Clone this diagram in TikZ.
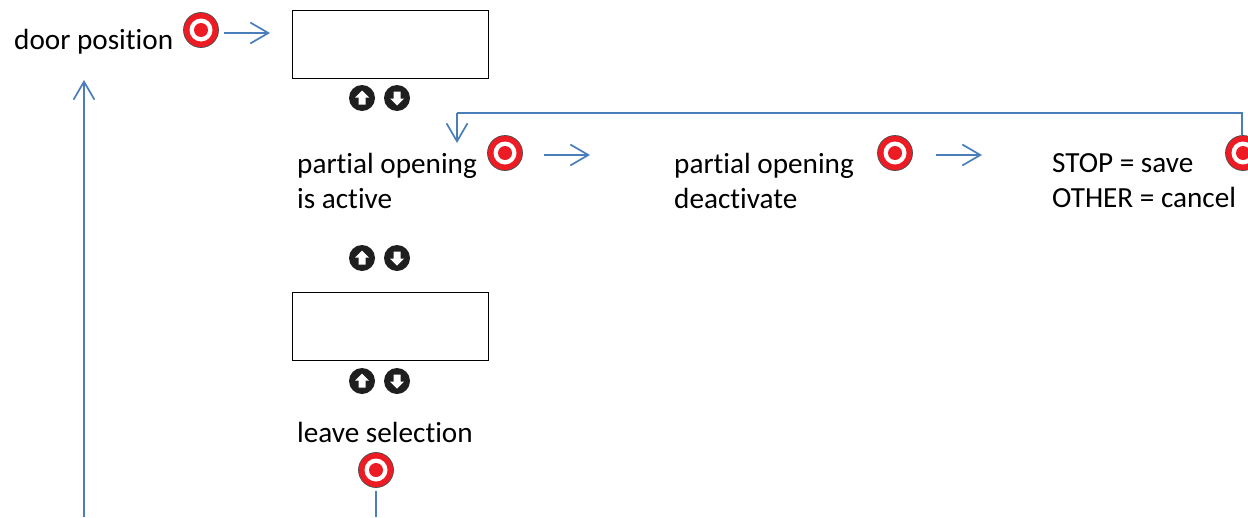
\documentclass[tikz,border=0pt]{standalone}
\usepackage{fontspec}
\setmainfont[Ligatures=NoCommon]{Carlito}
\usetikzlibrary{arrows.meta}
\definecolor{flow}{HTML}{4A7EBB}
\definecolor{mred}{HTML}{ED1C24}
\definecolor{mdark}{HTML}{4A4A4A}
\tikzset{
  x=1pt,y=-1pt,
  flowline/.style={draw=flow,line width=1.7pt},
  flowarrow/.style={flowline,-{Straight Barb[length=18pt,width=21pt,line width=1.7pt]}},
  lcd/.style={draw=black,line width=1.2pt,minimum width=196pt,minimum height=68pt,inner sep=0pt,anchor=north west},
  label/.style={font=\fontsize{29.2}{35}\selectfont,inner sep=0pt,anchor=west,align=left},
  marker/.style={circle,minimum size=35pt,inner sep=0pt,draw=mdark,line width=.7pt,fill=mred,
    path picture={
      \fill[white] (path picture bounding box.center) circle[radius=11.5pt];
      \fill[mred] (path picture bounding box.center) circle[radius=7pt];}},
  btnup/.style={circle,minimum size=26pt,inner sep=0pt,fill=black!88,
    path picture={
      \fill[white] ([shift={(0pt,-7.5pt)}]path picture bounding box.center)
        -- ++(7pt,7pt) -- ++(-3.5pt,0pt) -- ++(0pt,7pt) -- ++(-7pt,0pt) -- ++(0pt,-7pt) -- ++(-3.5pt,0pt) -- cycle;}},
  btndown/.style={circle,minimum size=26pt,inner sep=0pt,fill=black!88,
    path picture={
      \fill[white] ([shift={(0pt,7.5pt)}]path picture bounding box.center)
        -- ++(7pt,-7pt) -- ++(-3.5pt,0pt) -- ++(0pt,-7pt) -- ++(-7pt,0pt) -- ++(0pt,7pt) -- ++(-3.5pt,0pt) -- cycle;}},
}
\begin{document}
\begin{tikzpicture}
\useasboundingbox[fill=white] (0,0) rectangle (1248,517);
\begin{scope}
\clip (0,0) rectangle (1248,517);
% boxes
\node[lcd] (box1) at (292,10) {};
\node[lcd] (box2) at (292,292) {};
% labels
\node[label] (door) at (14,41.5) {door position};
\node[label] (active) at (297,180.5) {partial opening\\is active};
\node[label] (deact) at (674,180.5) {partial opening\\deactivate};
\node[label] (stop) at (1052,181) {STOP = save\\OTHER = cancel};
\node[label] (leave) at (297,432) {leave selection};
% markers
\node[marker] (m1) at (201,30) {};
\node[marker] (m2) at (505,153) {};
\node[marker] (m3) at (895,153) {};
\node[marker] (m4) at (1243,153) {};
\node[marker] (m5) at (376,470) {};
% buttons: the y axis points down, so the arrow shapes are given with that in mind
\node[btndown] (u1) at (362,98) {};
\node[btnup] (d1) at (397,98) {};
\node[btndown] (u2) at (362,258) {};
\node[btnup] (d2) at (397,258) {};
\node[btndown] (u3) at (362,381) {};
\node[btnup] (d3) at (397,381) {};
% connector ends
\coordinate (outB) at (376,517);
\coordinate (backB) at (84,517);
\coordinate (backT) at (84,80);
\coordinate (corner) at (1242,113);
\coordinate (cornerL) at (457,113);
\coordinate (tipA) at (457,143);
\coordinate (a1s) at (224,33);
\coordinate (a2s) at (544,155);
\coordinate (a3s) at (936,155);
% connectors
\draw[flowarrow,shorten >=22pt] (a1s) -- (a1s -| box1.west);
\draw[flowarrow,shorten >=84pt] (a2s) -- (a2s -| deact.west);
\draw[flowarrow,shorten >=70pt] (a3s) -- (a3s -| stop.west);
\draw[flowline] (corner |- m4.north) -- (corner) -- (cornerL);
\draw[flowarrow] (cornerL) -- (tipA);
\draw[flowline] (m5.south) ++(0,3.5) -- (outB);
\draw[flowarrow] (backB) -- (backT);
\end{scope}
\end{tikzpicture}
\end{document}
